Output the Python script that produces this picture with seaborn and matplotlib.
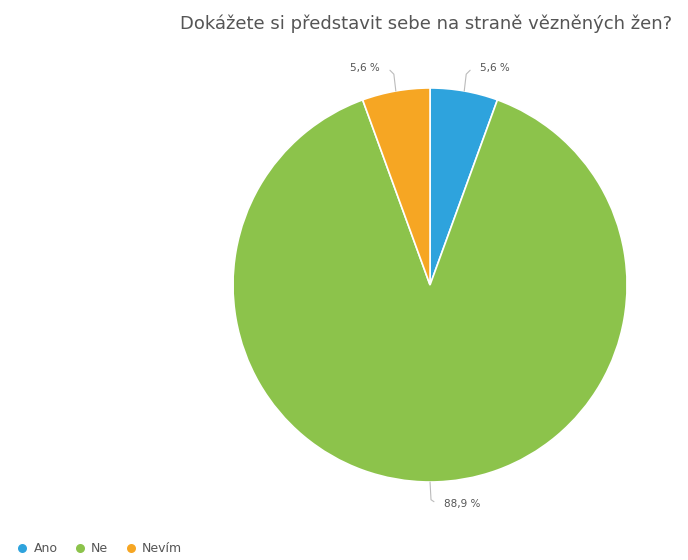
import numpy as np
import matplotlib
matplotlib.use('Agg')
import matplotlib.pyplot as plt
import seaborn as sns
from matplotlib.lines import Line2D

sns.set_theme(style='white')
plt.rcParams['font.family'] = ['DejaVu Sans']

# data
categories = ['Ano', 'Ne', 'Nevím']
counts = [1, 16, 1]
pct_labels = ['5,6 %', '88,9 %', '5,6 %']
colors = ['#2ea3dd', '#8cc34b', '#f6a623']
title = 'Dokážete si představit sebe na straně vězněných žen?'

fig = plt.figure(figsize=(6.88, 5.60), dpi=100)
ax = fig.add_axes([0.3387, 0.1393, 0.5727, 0.7036])

wedges, _ = ax.pie(counts, colors=colors, startangle=90, counterclock=False,
                   wedgeprops=dict(edgecolor='white', linewidth=1.2))
ax.set_xlim(-1, 1)
ax.set_ylim(-1, 1)
ax.set_aspect('auto')
ax.axis('off')

# leader lines with labels
for w, lab in zip(wedges, pct_labels):
    ang = np.deg2rad((w.theta1 + w.theta2) / 2)
    x0, y0 = np.cos(ang), np.sin(ang)
    side = 1 if x0 >= 0 else -1
    if y0 > 0:
        ymid = 1.07
        ax.plot([x0, x0 + 0.01 * side, x0 + 0.03 * side], [y0, ymid, ymid + 0.02],
                color='#bbbbbb', lw=0.8, clip_on=False)
        ax.text(x0 + 0.08 * side, ymid + 0.03, lab, ha='left' if side > 0 else 'right',
                va='center', fontsize=7.5, color='#555555')
    else:
        ax.plot([x0, x0 + 0.005, x0 + 0.02], [y0, y0 - 0.09, y0 - 0.10],
                color='#bbbbbb', lw=0.8, clip_on=False)
        ax.text(x0 + 0.07, y0 - 0.11, lab, ha='left', va='center',
                fontsize=7.5, color='#555555')

fig.text(0.619, 0.957, title, ha='center', va='center', fontsize=13, color='#555555')

handles = [Line2D([0], [0], marker='o', color='w', markerfacecolor=c, markersize=7.5)
           for c in colors]
fig.legend(handles, categories, loc='lower left', bbox_to_anchor=(0.005, -0.012),
           ncol=3, frameon=False, fontsize=9, handletextpad=0.3, columnspacing=1.2,
           handlelength=1.2, labelcolor='#555555')

fig.savefig('out.png', dpi=100)
